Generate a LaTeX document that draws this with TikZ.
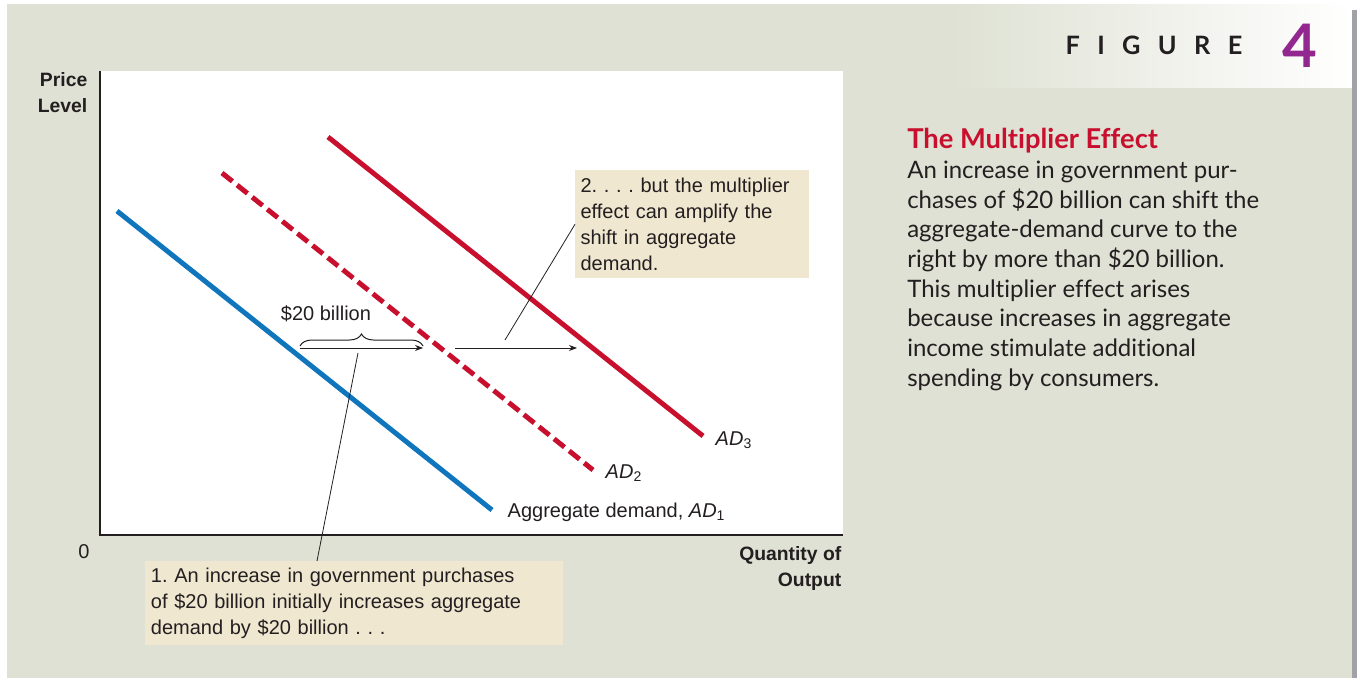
\documentclass[tikz,border=0pt]{standalone}
\usepackage{fontspec}
\setmainfont{Liberation Sans}
\newfontfamily\capfont[Ligatures=NoCommon]{Lato}
\usetikzlibrary{arrows.meta,calc,decorations.pathreplacing}
\definecolor{bg}{HTML}{DEE1D3}
\definecolor{tn}{HTML}{EFE7D0}
\definecolor{bl}{HTML}{0F75BC}
\definecolor{rd}{HTML}{C8102E}
\definecolor{pu}{HTML}{92278F}
\definecolor{gb}{HTML}{A0A2A8}
\definecolor{ink}{HTML}{231F20}
\frenchspacing

\begin{document}
\begin{tikzpicture}[x=0.75pt,y=-0.75pt,
  ad/.style={line width=3.7pt},
  tb/.style={fill=tn,anchor=north west,align=left,inner xsep=4pt,font=\fontsize{15}{19.5}\selectfont,text=ink},
  lb/.style={anchor=west,font=\fontsize{15}{17}\selectfont,text=ink},
  ax/.style={align=right,anchor=north east,font=\bfseries\fontsize{14.5}{19}\selectfont,text=ink},
  a/.style={-{Stealth[length=6pt,width=4.5pt]},line width=0.6pt,draw=ink}]
\useasboundingbox (0,0) rectangle (1357,678);
% background
\fill[white] (0,0) rectangle (1357,678);
\fill[bg] (7,4) rectangle (1352,678);
\shade[left color=bg,right color=white] (950,4) rectangle (1352,87);
\fill[gb] (1352,10) rectangle (1357,678);
\fill[white] (100,71) rectangle (843,535);
% header
\node[anchor=east,font=\capfont\bfseries\fontsize{19}{20}\selectfont,text=ink](fig) at (1247,45)
  {F\hspace{13pt}I\hspace{13pt}G\hspace{13pt}U\hspace{13pt}R\hspace{13pt}E};
\node[font=\capfont\bfseries\fontsize{45}{45}\selectfont,text=pu](num) at (1300,46){4};
% caption
\node[anchor=north west,align=left,inner sep=0pt,font=\capfont\fontsize{18}{22.3}\selectfont,text=ink](cap) at (907,128)
  {{\color{rd}\bfseries\fontsize{20.5}{22.3}\selectfont The Multiplier Effect}\\
   An increase in government pur-\\
   chases of \$20 billion can shift the\\
   aggregate-demand curve to the\\
   right by more than \$20 billion.\\
   This multiplier effect arises\\
   because increases in aggregate\\
   income stimulate additional\\
   spending by consumers.};
% axes
\draw[ink,line width=1.1pt] (100,71) -- (100,535) -- (843,535);
\node[ax](py) at (92,68){Price\\Level};
\node[lb,anchor=center](o) at (84,552){0};
\node[ax](qx) at (846,542){Quantity of\\Output};
% curves
\coordinate (s1) at (117,211); \coordinate (e1) at (492,510);
\coordinate (s2) at (222,173); \coordinate (e2) at (593,470);
\coordinate (s3) at (328,137); \coordinate (e3) at (703,436);
\draw[ad,bl] (s1) -- (e1);
\draw[ad,rd,dash pattern=on 10pt off 4.5pt] (s2) -- (e2);
\draw[ad,rd] (s3) -- (e3);
\node[lb](l1) at (503,512){Aggregate demand, \textit{AD}\textsubscript{1}};
\node[lb](l2) at (601,473){\textit{AD}\textsubscript{2}};
\node[lb](l3) at (711,440){\textit{AD}\textsubscript{3}};
% shifts
\coordinate (a1) at (300,348); \coordinate (b1) at (423,348);
\coordinate (a2) at (455,348); \coordinate (b2) at (577,348);
\draw[a] (a1) -- (b1);
\draw[a] (a2) -- (b2);
\draw[ink,line width=0.75pt,decorate,decoration={brace,amplitude=9pt}] (300,346) -- (423,346);
\node[lb,anchor=center](amt) at (326,314){\$20 billion};
% notes
\node[tb,minimum width=313.5pt,minimum height=63pt,text width=305pt](box1) at (145,561)
  {1. An increase in government purchases\\
   of \$20 billion initially increases aggregate\\
   demand by \$20 billion . . .};
\node[tb,minimum width=174.75pt,minimum height=81pt,text width=167pt](box2) at (575,170)
  {2. . . . but the multiplier\\
   effect can amplify the\\
   shift in aggregate\\
   demand.};
\coordinate (p1) at (358,353); \coordinate (t1) at (317,561);
\coordinate (p2) at (505,340);
\draw[ink,line width=0.6pt] (p1) -- (t1);
\draw[ink,line width=0.6pt] (p2) -- (box2.west);
\end{tikzpicture}
\end{document}
